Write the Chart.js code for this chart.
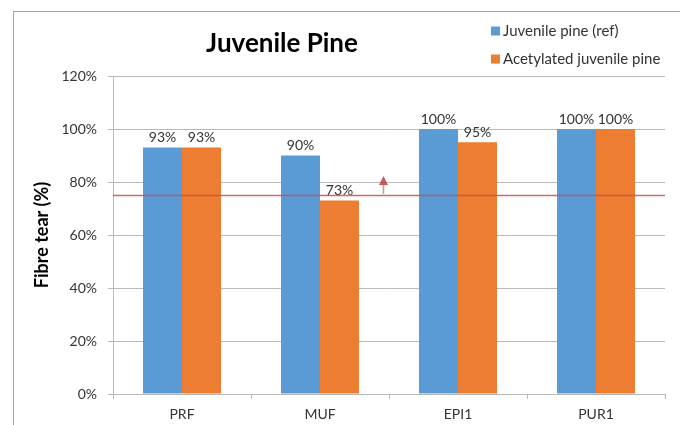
<!DOCTYPE html>
<html>
<head>
<meta charset="utf-8">
<script src="https://cdn.jsdelivr.net/npm/chart.js@4.4.0/dist/chart.umd.min.js"></script>
<style>
  html, body { margin: 0; padding: 0; background: #fff; }
</style>
</head>
<body>
<canvas id="fibreChart" width="680" height="425"></canvas>
<script>
// ---- data ----
const categories = ["PRF", "MUF", "EPI1", "PUR1"];
const juvenileRef = [93, 90, 100, 100];
const acetylated = [93, 73, 95, 100];
const seriesNames = ["Juvenile pine (ref)", "Acetylated juvenile pine"];
const seriesColors = ["#5B9BD5", "#ED7D31"];
const yRange = [0, 120];
const yStep = 20;
const thresholdValue = 75;          // red reference line
const arrowFrom = 75.5, arrowTo = 82.3; // small arrow pointing up from the line
const arrowAt = 1.46;               // category position of the arrow

const FONT = "Lato, 'Open Sans', sans-serif";
const TEXT = "#333333";
const GRID = "#b9b9b9";

// ---- extra drawing: frame, labels, reference line, title, legend ----
const decor = {
  id: 'decor',
  beforeDraw(chart){
    const ctx = chart.ctx;
    ctx.save();
    ctx.fillStyle = '#fff';
    ctx.fillRect(0, 0, chart.width, chart.height);
    ctx.strokeStyle = '#a6a6a6';
    ctx.lineWidth = 1;
    ctx.strokeRect(13.5, 11.5, chart.width + 20, chart.height + 20);
    ctx.restore();
  },
  afterDatasetsDraw(chart){
    const ctx = chart.ctx;
    const x = chart.scales.x, y = chart.scales.y;
    const area = chart.chartArea;
    ctx.save();

    // value labels above bars
    ctx.font = "14px " + FONT;
    ctx.fillStyle = TEXT;
    ctx.textAlign = 'center';
    ctx.textBaseline = 'bottom';
    chart.data.datasets.forEach((ds, i) => {
      chart.getDatasetMeta(i).data.forEach((bar, j) => {
        ctx.fillText(ds.data[j] + '%', bar.x, bar.y - 3);
      });
    });

    // reference line
    const ly = Math.round(y.getPixelForValue(thresholdValue)) + 0.5;
    ctx.strokeStyle = 'rgba(200,80,80,0.85)';
    ctx.lineWidth = 1.5;
    ctx.beginPath();
    ctx.moveTo(area.left, ly);
    ctx.lineTo(area.right, ly);
    ctx.stroke();

    // arrow
    const ax = Math.round(x.getPixelForValue(arrowAt)) + 0.5;
    const y0 = y.getPixelForValue(arrowFrom), y1 = y.getPixelForValue(arrowTo);
    ctx.strokeStyle = 'rgba(215,100,100,0.75)';
    ctx.fillStyle = 'rgba(200,70,70,0.9)';
    ctx.lineWidth = 1.5;
    ctx.beginPath();
    ctx.moveTo(ax, y0);
    ctx.lineTo(ax, y1 + 8);
    ctx.stroke();
    ctx.beginPath();
    ctx.moveTo(ax, y1);
    ctx.lineTo(ax - 4.5, y1 + 9);
    ctx.lineTo(ax + 4.5, y1 + 9);
    ctx.closePath();
    ctx.fill();
    ctx.restore();
  },
  afterDraw(chart){
    const ctx = chart.ctx;
    ctx.save();
    // title
    ctx.font = "bold 26px " + FONT;
    ctx.fillStyle = '#000';
    ctx.textAlign = 'center';
    ctx.textBaseline = 'middle';
    ctx.fillText("Juvenile Pine", 282, 44);

    // legend
    ctx.font = "15px " + FONT;
    ctx.textAlign = 'left';
    seriesNames.forEach((name, i) => {
      const cy = 31 + i * 28;
      ctx.fillStyle = seriesColors[i];
      ctx.fillRect(491, cy - 4.5, 9, 9);
      ctx.fillStyle = TEXT;
      ctx.fillText(name, 503, cy);
    });
    ctx.restore();
  }
};

new Chart(document.getElementById('fibreChart'), {
  type: 'bar',
  data: {
    labels: categories,
    datasets: [
      { label: seriesNames[0], data: juvenileRef, backgroundColor: seriesColors[0] },
      { label: seriesNames[1], data: acetylated, backgroundColor: seriesColors[1] }
    ]
  },
  options: {
    responsive: false,
    devicePixelRatio: 1,
    animation: false,
    layout: { padding: { left: 20, top: 76, right: 15, bottom: 0 } },
    datasets: { bar: { categoryPercentage: 0.565, barPercentage: 1.0 } },
    plugins: {
      legend: { display: false },
      title: { display: false },
      tooltip: { enabled: false }
    },
    scales: {
      x: {
        afterFit(scale){ scale.height = 31; },
        grid: { offset: true, drawOnChartArea: false, color: GRID, tickLength: 5 },
        border: { color: GRID },
        ticks: { color: TEXT, font: { family: FONT, size: 14 }, padding: 7 }
      },
      y: {
        min: yRange[0], max: yRange[1],
        afterFit(scale){ scale.width = 93; },
        grid: { color: GRID, tickLength: 5 },
        border: { color: GRID },
        ticks: {
          stepSize: yStep,
          color: TEXT,
          padding: 11,
          font: { family: FONT, size: 14 },
          callback: v => v + '%'
        },
        title: {
          display: true,
          text: 'Fibre tear (%)',
          color: '#000',
          font: { family: FONT, size: 18, weight: 'bold' },
          padding: { top: 11, bottom: 0 }
        }
      }
    }
  },
  plugins: [decor]
});
</script>
</body>
</html>
